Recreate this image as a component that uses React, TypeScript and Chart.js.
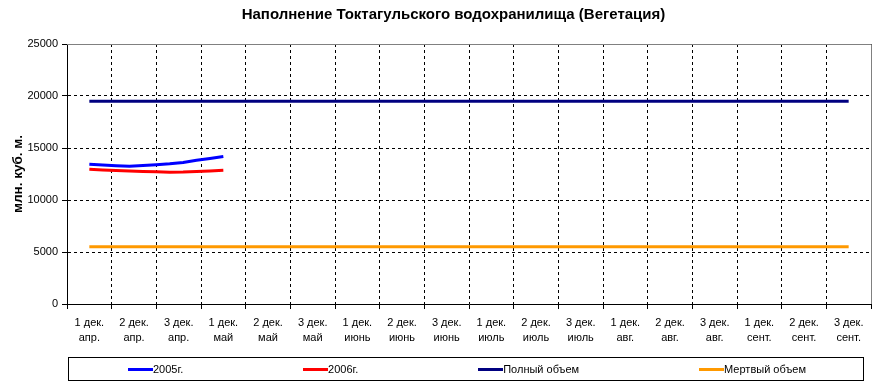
import React, { useEffect, useRef } from 'react';
import { Chart, registerables } from 'chart.js';

Chart.register(...registerables);

// ---- data ----
const dekads = ['1 дек.', '2 дек.', '3 дек.'];
const months = ['апр.', 'май', 'июнь', 'июль', 'авг.', 'сент.'];
const categories = months.flatMap((m) => dekads.map((d) => [d, m]));

const yTicks = [0, 5000, 10000, 15000, 20000, 25000];

// daily series, day offset from 1 April
const days2005 = [0, 3, 6, 9, 12, 15, 18, 21, 24, 27, 30];
const vol2005 = [13440, 13370, 13300, 13250, 13320, 13400, 13480, 13610, 13820, 13990, 14180];
const days2006 = [0, 3, 6, 9, 12, 15, 18, 21, 24, 27, 30];
const vol2006 = [12960, 12890, 12830, 12780, 12740, 12710, 12680, 12690, 12740, 12800, 12870];

const fullVolume = [
  19500, 19500, 19500, 19500, 19500, 19500, 19500, 19500, 19500,
  19500, 19500, 19500, 19500, 19500, 19500, 19500, 19500, 19500,
];
const deadVolume = [
  5500, 5500, 5500, 5500, 5500, 5500, 5500, 5500, 5500,
  5500, 5500, 5500, 5500, 5500, 5500, 5500, 5500, 5500,
];

const seriesNames = ['2005г.', '2006г.', 'Полный объем', 'Мертвый объем'];
const seriesColors = ['#0000FF', '#FF0000', '#000080', '#FF9900'];

const DAYS_PER_DEKAD = 10;
const FONT = 'Arial, "Liberation Sans", sans-serif';

const shiftTitle = {
  id: 'shiftTitle',
  afterLayout(chart: any) {
    const t = chart.titleBlock;
    if (t) {
      t.left += 18;
      t.right += 18;
    }
  },
};

const plotFrame = {
  id: 'plotFrame',
  afterDatasetsDraw(chart: any) {
    const { ctx, chartArea } = chart;
    const { left, top, right, bottom } = chartArea;
    const r = Math.round(right) + 0.5;
    const t = Math.round(top) + 0.5;
    ctx.save();
    ctx.strokeStyle = '#808080';
    ctx.lineWidth = 1;
    ctx.beginPath();
    ctx.moveTo(left, t);
    ctx.lineTo(r, t);
    ctx.lineTo(r, bottom);
    ctx.stroke();
    ctx.restore();
  },
};

export default function App() {
  const ref = useRef<HTMLCanvasElement | null>(null);

  useEffect(() => {
    if (!ref.current) return;
    const lineBase = { borderWidth: 3, pointRadius: 0, pointHoverRadius: 0, tension: 0, fill: false };
    const chart = new Chart(ref.current, {
      type: 'line',
      data: {
        labels: categories,
        datasets: [
          {
            ...lineBase,
            label: seriesNames[0],
            borderColor: seriesColors[0],
            backgroundColor: seriesColors[0],
            xAxisID: 'xd',
            data: days2005.map((d, i) => ({ x: d / DAYS_PER_DEKAD, y: vol2005[i] })),
          },
          {
            ...lineBase,
            label: seriesNames[1],
            borderColor: seriesColors[1],
            backgroundColor: seriesColors[1],
            xAxisID: 'xd',
            data: days2006.map((d, i) => ({ x: d / DAYS_PER_DEKAD, y: vol2006[i] })),
          },
          {
            ...lineBase,
            label: seriesNames[2],
            borderColor: seriesColors[2],
            backgroundColor: seriesColors[2],
            xAxisID: 'x',
            data: fullVolume,
          },
          {
            ...lineBase,
            label: seriesNames[3],
            borderColor: seriesColors[3],
            backgroundColor: seriesColors[3],
            xAxisID: 'x',
            data: deadVolume,
          },
        ] as any,
      },
      options: {
        animation: false,
        responsive: true,
        maintainAspectRatio: false,
        layout: { padding: { left: 0, right: 12, top: 0, bottom: 40 } },
        plugins: {
          legend: { display: false },
          tooltip: { enabled: false },
          title: {
            display: true,
            text: 'Наполнение Токтагульского водохранилища (Вегетация)',
            color: '#000',
            font: { family: FONT, size: 15, weight: 'bold' },
            padding: { top: 6, bottom: 20 },
          },
        },
        scales: {
          x: {
            type: 'category',
            offset: true,
            grid: { offset: true, color: '#000', lineWidth: 1, tickLength: 5, tickColor: '#000' },
            border: { color: '#000', width: 1, dash: [3, 3] },
            ticks: {
              autoSkip: false,
              maxRotation: 0,
              minRotation: 0,
              padding: 7,
              color: '#000',
              font: { family: FONT, size: 11, lineHeight: 1.35 },
            },
            afterFit: (s: any) => {
              s.height = 45;
            },
          },
          xd: {
            type: 'linear',
            display: false,
            min: -0.5,
            max: 17.5,
            bounds: 'data',
          },
          y: {
            type: 'linear',
            min: 0,
            max: 25000,
            afterBuildTicks: (s: any) => {
              s.ticks = yTicks.map((v) => ({ value: v }));
            },
            grid: { color: '#000', lineWidth: 1, tickLength: 5, tickColor: '#000' },
            border: { color: '#000', width: 1, dash: [3, 3] },
            ticks: {
              padding: 4,
              color: '#000',
              font: { family: FONT, size: 11 },
              callback: (v: any) => String(v),
            },
            title: {
              display: true,
              text: 'млн. куб. м.',
              color: '#000',
              font: { family: FONT, size: 13.5, weight: 'bold' },
              padding: { top: 10, bottom: 0 },
            },
            afterFit: (s: any) => {
              s.width = 67;
            },
          },
        } as any,
      },
      plugins: [shiftTitle, plotFrame],
    });
    return () => chart.destroy();
  }, []);

  return (
    <div style={{ position: 'absolute', left: 0, top: 0, width: 883, height: 389, background: '#fff' }}>
      <div style={{ position: 'absolute', left: 0, top: 0, width: 883, height: 389 }}>
        <canvas ref={ref} />
      </div>
      <div
        style={{
          position: 'absolute',
          left: 68,
          top: 357,
          width: 796,
          height: 24,
          boxSizing: 'border-box',
          border: '1px solid #000',
          display: 'flex',
          alignItems: 'center',
          justifyContent: 'space-between',
          padding: '0 57px 0 59px',
          fontFamily: FONT,
          fontSize: 11,
          color: '#000',
        }}
      >
        {seriesNames.map((name, i) => (
          <div key={name} style={{ display: 'flex', alignItems: 'center', whiteSpace: 'nowrap' }}>
            <span style={{ display: 'inline-block', width: 25, height: 3, background: seriesColors[i] }} />
            <span>{name}</span>
          </div>
        ))}
      </div>
    </div>
  );
}
